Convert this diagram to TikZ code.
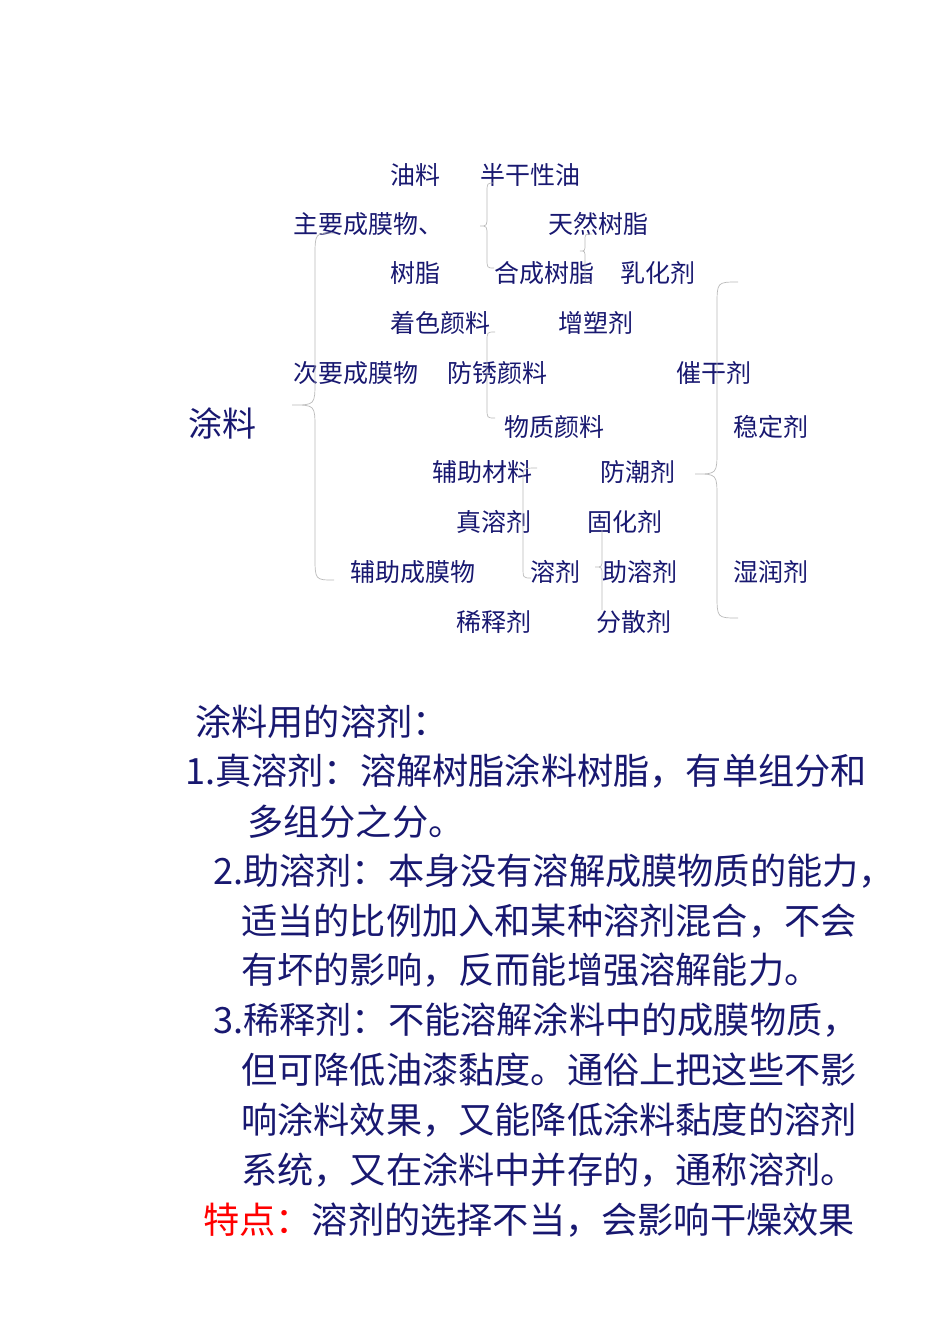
\documentclass[tikz,border=0pt]{standalone}
\usepackage{fontspec}
\newfontfamily\cjk{Noto Sans CJK SC}
\usetikzlibrary{calc}
\definecolor{ink}{RGB}{24,24,112}
\definecolor{brcgray}{RGB}{185,185,185}
\def\bracepath[#1](#2,#3,#4)(#5,#6,#7)(#8){\draw[#1] (#2,#5) .. controls (#3,#5) .. (#3,{#5+#8}) -- (#3,{#6-#8}) .. controls (#3,#6) .. (#4,#6) .. controls (#3,#6) .. (#3,{#6+#8}) -- (#3,{#7-#8}) .. controls (#3,#7) .. (#2,#7);}
\tikzset{
  lbl/.style={anchor=west, inner sep=0pt, text=ink, font=\cjk\fontsize{25}{25}\selectfont},
  txt/.style={anchor=west, inner sep=0pt, text=ink, font=\cjk\fontsize{36.2}{36.2}\selectfont},
  brc/.style={draw=brcgray, line width=0.7pt}
}
\begin{document}
\begin{tikzpicture}[x=1pt, y=-1pt]
		%%%%% START %%%%%
		\useasboundingbox (0,0) rectangle (950,1344);
		
		\node[lbl] (youliao) at (390, 175) {油料};
		\node[lbl] (bangan) at (480, 175) {半干性油};
		\node[lbl] (zhuyao) at (293, 224) {主要成膜物、};
		\node[lbl] (tianran) at (548, 224) {天然树脂};
		\node[lbl] (shuzhi) at (390, 273) {树脂};
		\node[lbl] (hecheng) at (494, 273) {合成树脂};
		\node[lbl] (ruhua) at (620, 273) {乳化剂};
		\node[lbl] (zhuose) at (390, 323) {着色颜料};
		\node[lbl] (zengsu) at (558, 323) {增塑剂};
		\node[lbl] (ciyao) at (293, 373) {次要成膜物};
		\node[lbl] (fangxiu) at (447, 373) {防锈颜料};
		\node[lbl] (cuigan) at (676, 373) {催干剂};
		\node[lbl, font=\cjk\fontsize{34}{34}\selectfont] (tuliao) at (188, 423) {涂料};
		\node[lbl] (wuzhi) at (504, 427) {物质颜料};
		\node[lbl] (wending) at (733, 427) {稳定剂};
		\node[lbl] (fuzhu) at (432, 472) {辅助材料};
		\node[lbl] (fangchao) at (600, 472) {防潮剂};
		\node[lbl] (zhenrong) at (456, 522) {真溶剂};
		\node[lbl] (guhua) at (587, 522) {固化剂};
		\node[lbl] (fuzhucm) at (350, 572) {辅助成膜物};
		\node[lbl] (rongji) at (530, 572) {溶剂};
		\node[lbl] (zhurong) at (602, 572) {助溶剂};
		\node[lbl] (shirun) at (733, 572) {湿润剂};
		\node[lbl] (xishi) at (456, 622) {稀释剂};
		\node[lbl] (fensan) at (596, 622) {分散剂};
		
		% braces
		\bracepath[brc](334,315,292)(233,405,580)(24);
		\bracepath[brc](494,487,480)(183,226,268)(10);
		\bracepath[brc](592,585,580)(234,251,282)(7);
		\draw[brc] (495,332) .. controls (487,332) .. (487,342) -- (487,408) .. controls (487,418) .. (495,418);
		\draw[brc] (537,468) .. controls (523,468) .. (523,480) -- (523,566) .. controls (523,578) .. (531,578);
		\draw[brc] (602,530) -- (602,559) .. controls (602,567) .. (595,567) .. controls (602,567) .. (602,575) -- (602,610);
		\bracepath[brc](738,717,695)(282,474,618)(24);
		
		% explanation
		\node[txt] (title) at (195, 722) {涂料用的溶剂：};
		\node[txt] (l1) at (185, 771) {1.真溶剂：溶解树脂涂料树脂，有单组分和};
		\node[txt] (l1b) at (247, 822) {多组分之分。};
		\node[txt] (l2) at (213, 871) {2.助溶剂：本身没有溶解成膜物质的能力，};
		\node[txt] (l2b) at (241, 921) {适当的比例加入和某种溶剂混合，不会};
		\node[txt] (l2c) at (241, 970) {有坏的影响，反而能增强溶解能力。};
		\node[txt] (l3) at (213, 1020) {3.稀释剂：不能溶解涂料中的成膜物质，};
		\node[txt] (l3b) at (241, 1070) {但可降低油漆黏度。通俗上把这些不影};
		\node[txt] (l3c) at (241, 1120) {响涂料效果，又能降低涂料黏度的溶剂};
		\node[txt] (l3d) at (241, 1170) {系统，又在涂料中并存的，通称溶剂。};
		\node[txt] (tedian) at (203, 1220) {{\color{red}特点：}溶剂的选择不当，会影响干燥效果};
		
		%%%%% END %%%%%
\end{tikzpicture}
\end{document}
